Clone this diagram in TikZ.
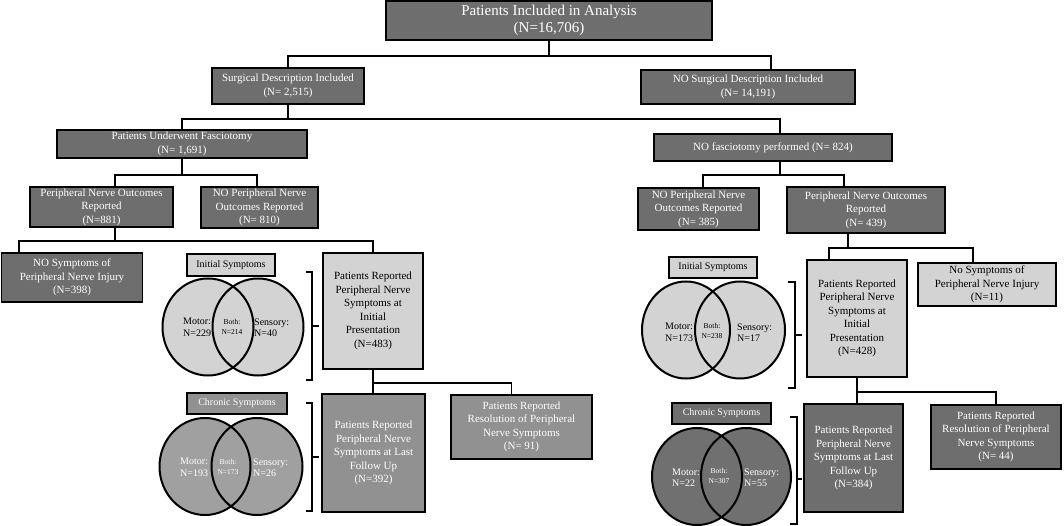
\documentclass[tikz,border=0pt]{standalone}
\usepackage{fontspec}
\setmainfont{Liberation Serif}
\usetikzlibrary{calc}
\definecolor{dk}{RGB}{110,110,110}
\definecolor{lt}{RGB}{211,211,211}
\definecolor{md}{RGB}{145,145,145}
\definecolor{vmd}{RGB}{160,160,160}
\definecolor{vdk}{RGB}{112,112,112}
\tikzset{
  box/.style={draw=black, line width=1.8pt, align=center, inner sep=0pt, font=\fontsize{11}{13.5}\selectfont},
  dkbox/.style={box, fill=dk, text=white},
  ltbox/.style={box, fill=lt, text=black},
  mdbox/.style={box, fill=md, text=white},
  labbox/.style={box, font=\fontsize{10}{12}\selectfont},
  conn/.style={line width=1.8pt},
  brk/.style={line width=1.8pt, line join=miter},
  vennline/.style={line width=2pt},
  vlab/.style={font=\fontsize{10}{11.5}\selectfont, align=left, inner sep=0pt, anchor=west},
  vboth/.style={font=\fontsize{7.5}{10}\selectfont, align=center, inner sep=0pt},
}
\begin{document}
\begin{tikzpicture}[x=1pt,y=-1pt]
\useasboundingbox (0,0) rectangle (1064,526);

% ---- boxes ----
\node[dkbox, minimum width=326pt, minimum height=39pt, font=\fontsize{15}{16.5}\selectfont] (top) at (549,20.5) {Patients Included in Analysis\\(N=16,706)};
\node[dkbox, minimum width=152pt, minimum height=36pt] (surg) at (288,86) {Surgical Description Included\\(N= 2,515)};
\node[dkbox, minimum width=214pt, minimum height=34pt] (nosurg) at (748,87) {NO Surgical Description Included\\(N= 14,191)};
\node[dkbox, minimum width=250pt, minimum height=28pt] (fasc) at (182,144) {Patients Underwent Fasciotomy\\(N= 1,691)};
\node[dkbox, minimum width=238pt, minimum height=27pt] (nofasc) at (773,147.5) {NO fasciotomy performed (N= 824)};
\node[dkbox, minimum width=143pt, minimum height=40pt] (pnoL) at (101.5,207) {Peripheral Nerve Outcomes\\Reported\\(N=881)};
\node[dkbox, minimum width=117pt, minimum height=41pt] (nopnoL) at (259.5,207.5) {NO Peripheral Nerve\\Outcomes Reported\\(N= 810)};
\node[dkbox, minimum width=121pt, minimum height=42pt] (nopnoR) at (698.5,209) {NO Peripheral Nerve\\Outcomes Reported\\(N= 385)};
\node[dkbox, minimum width=158pt, minimum height=46pt] (pnoR) at (866,210) {Peripheral Nerve Outcomes\\Reported\\(N= 439)};

\node[dkbox, minimum width=141pt, minimum height=49pt] (nosymL) at (72,277.5) {NO Symptoms of\\Peripheral Nerve Injury\\(N=398)};
\node[ltbox, labbox, minimum width=88pt, minimum height=22pt] (initlabL) at (231,265) {Initial Symptoms};
\node[ltbox, minimum width=100pt, minimum height=116pt] (initL) at (373,311) {Patients Reported\\Peripheral Nerve\\Symptoms at\\Initial\\Presentation\\(N=483)};
\node[mdbox, minimum width=103pt, minimum height=118pt] (chronL) at (373.5,453) {Patients Reported\\Peripheral Nerve\\Symptoms at Last\\Follow Up\\(N=392)};
\node[mdbox, minimum width=141pt, minimum height=64pt] (resL) at (521.5,427) {Patients Reported\\Resolution of Peripheral\\Nerve Symptoms\\(N= 91)};
\node[mdbox, labbox, text=white, minimum width=100pt, minimum height=21pt] (chronlabL) at (237,403.5) {Chronic Symptoms};

\node[ltbox, labbox, minimum width=88pt, minimum height=21pt] (initlabR) at (713,267.5) {Initial Symptoms};
\node[ltbox, minimum width=100pt, minimum height=117pt] (initR) at (857,318.5) {Patients Reported\\Peripheral Nerve\\Symptoms at\\Initial\\Presentation\\(N=428)};
\node[ltbox, minimum width=138pt, minimum height=43pt] (nosymR) at (987,284.5) {No Symptoms of\\Peripheral Nerve Injury\\(N=11)};
\node[dkbox, minimum width=99pt, minimum height=108pt] (chronR) at (853.5,458) {Patients Reported\\Peripheral Nerve\\Symptoms at Last\\Follow Up\\(N=384)};
\node[dkbox, minimum width=130pt, minimum height=64pt] (resR) at (996,437) {Patients Reported\\Resolution of Peripheral\\Nerve Symptoms\\(N= 44)};
\node[dkbox, labbox, text=white, minimum width=99pt, minimum height=21pt] (chronlabR) at (721.5,413.5) {Chronic Symptoms};

% ---- connectors ----
\draw[conn] (top.south) -- ++(0,15) -| (surg.north);
\draw[conn] (top.south) ++(0,15) -| ([xshift=23pt]nosurg.north);
\draw[conn] (surg.south) -- ++(0,14) -| (fasc.north);
\draw[conn] (surg.south) ++(0,14) -| ([xshift=7pt]nofasc.north);
\draw[conn] (fasc.south) -- ++(0,16) -| ([xshift=13.5pt]pnoL.north);
\draw[conn] (fasc.south) ++(0,16) -| ([xshift=-2.5pt]nopnoL.north);
\draw[conn] ([xshift=7pt]nofasc.south) -- ++(0,13) -| ([xshift=4.5pt]nopnoR.north);
\draw[conn] ([xshift=7pt]nofasc.south) ++(0,13) -| ([xshift=-22pt]pnoR.north);
\draw[conn] ([xshift=13.5pt]pnoL.south) -- ++(0,13) -| ([xshift=-53pt]nosymL.north);
\draw[conn] ([xshift=13.5pt]pnoL.south) ++(0,13) -| (initL.north);
\draw[conn] ([xshift=-18pt]pnoR.south) -- ++(0,14) -| ([xshift=-28pt]initR.north);
\draw[conn] ([xshift=-18pt]pnoR.south) ++(0,14) -| ([xshift=-14pt]nosymR.north);
\draw[conn] (initL.south) -- (initL.south |- chronL.north);
\draw[conn] (initL.south) ++(0,13) -| ([xshift=-10pt]resL.north);
\draw[conn] (initR.south) -- (initR.south |- chronR.north);
\draw[conn] (initR.south) ++(0,14) -| (resR.north);

% ---- brackets ----
\draw[brk] (306,272) -- (312,272) -- (312,380) -- (306,380) (312,326) -- (319,326);
\draw[brk] (306,403) -- (312,403) -- (312,511) -- (306,511) (312,457) -- (319,457);
\draw[brk] (788,282) -- (795,282) -- (795,388) -- (788,388) (795,335) -- (802,335);
\draw[brk] (790,417) -- (797,417) -- (797,524) -- (790,524) (797,479) -- (802,479);

% ---- venn: initial left ----
\fill[lt] (208,327) ellipse [x radius=45.5pt, y radius=48.5pt];
\fill[lt] (258,327) ellipse [x radius=45.5pt, y radius=48.5pt];
\draw[vennline] (208,327) ellipse [x radius=45.5pt, y radius=48.5pt];
\draw[vennline] (258,327) ellipse [x radius=45.5pt, y radius=48.5pt];
\node[vlab] (mIL) at (183,327.5) {Motor:\\N=229};
\node[vboth] (bIL) at (232,327) {Both:\\N=214};
\node[vlab] (sIL) at (254,327.5) {Sensory:\\N=40};

% ---- venn: chronic left ----
\fill[vmd] (205,466.5) ellipse [x radius=45.5pt, y radius=48.5pt];
\fill[vmd] (257,466.5) ellipse [x radius=45.5pt, y radius=48.5pt];
\draw[vennline] (205,466.5) ellipse [x radius=45.5pt, y radius=48.5pt];
\draw[vennline] (257,466.5) ellipse [x radius=45.5pt, y radius=48.5pt];
\node[vlab, text=white] (mCL) at (180,467.5) {Motor:\\N=193};
\node[vboth, text=white] (bCL) at (228,467) {Both:\\N=173};
\node[vlab, text=white] (sCL) at (253,467.5) {Sensory:\\N=26};

% ---- venn: initial right ----
\fill[lt] (686,330) ellipse [x radius=44pt, y radius=48.5pt];
\fill[lt] (740,330) ellipse [x radius=45pt, y radius=48.5pt];
\draw[vennline] (686,330) ellipse [x radius=44pt, y radius=48.5pt];
\draw[vennline] (740,330) ellipse [x radius=45pt, y radius=48.5pt];
\node[vlab] (mIR) at (665,332.5) {Motor:\\N=173};
\node[vboth] (bIR) at (712,331) {Both:\\N=238};
\node[vlab] (sIR) at (737,332.5) {Sensory:\\N=17};

% ---- venn: chronic right ----
\fill[vdk] (697,476.5) ellipse [x radius=45pt, y radius=48.5pt];
\fill[vdk] (746,476.5) ellipse [x radius=45pt, y radius=48.5pt];
\draw[vennline] (697,476.5) ellipse [x radius=45pt, y radius=48.5pt];
\draw[vennline] (746,476.5) ellipse [x radius=45pt, y radius=48.5pt];
\node[vlab, text=white] (mCR) at (672,477.5) {Motor:\\N=22};
\node[vboth, text=white] (bCR) at (719,476) {Both:\\N=307};
\node[vlab, text=white] (sCR) at (744,477.5) {Sensory:\\N=55};
\end{tikzpicture}
\end{document}
